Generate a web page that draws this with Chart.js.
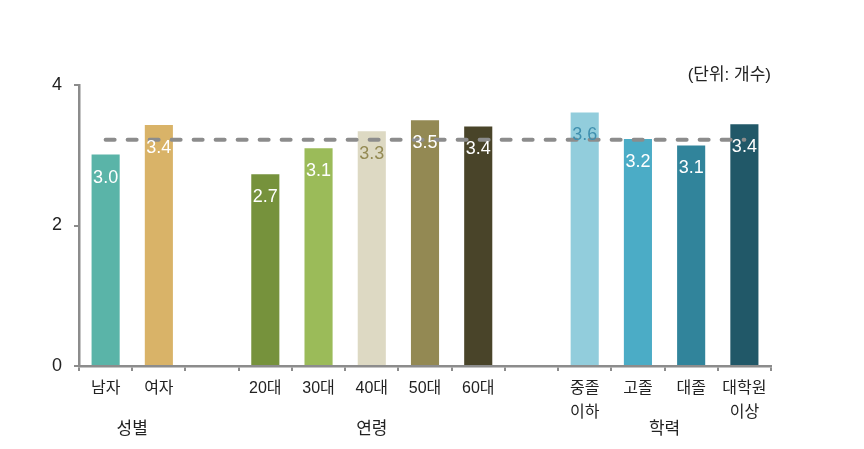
<!DOCTYPE html>
<html>
<head>
<meta charset="utf-8">
<script src="https://cdn.jsdelivr.net/npm/chart.js@4"></script>
<style>
  body { margin: 0; background: #fff; }
  #wrap { width: 864px; height: 449px; }
</style>
</head>
<body>
<div id="wrap"><canvas id="myChart" width="864" height="449"></canvas></div>
<script>
// categories (empty slots are the gaps between groups)
const categories = [["남자"], ["여자"], "", ["20대"], ["30대"], ["40대"], ["50대"], ["60대"], "", ["중졸", "이하"], ["고졸"], ["대졸"], ["대학원", "이상"]];
const values = [3.01, 3.43, null, 2.73, 3.1, 3.34, 3.5, 3.41, null, 3.61, 3.23, 3.14, 3.44];
const average = [3.22, 3.22, 3.22, 3.22, 3.22, 3.22, 3.22, 3.22, 3.22, 3.22, 3.22, 3.22, 3.22];
const groups = ["성별", "연령", "학력"];
const groupAt = [0.5, 5, 10.5]; // category index the group name sits under
const yTicks = [0, 2, 4];

const barColors = ["#5ab4a8", "#d9b368", null, "#76923c", "#9bbb59", "#ddd9c3", "#938953", "#494429", null, "#92cddc", "#4bacc6", "#31849b", "#215868"];
const labelColors = ["#fff", "#fff", null, "#fff", "#fff", "#948a54", "#fff", "#fff", null, "#3f8fae", "#fff", "#fff", "#fff"];

const FONT = "'Liberation Sans', 'Noto Sans CJK KR', sans-serif";
const axisGray = "#8c8c8c";

const extras = {
  id: "extras",
  afterDatasetsDraw(chart) {
    const ctx = chart.ctx;
    const meta = chart.getDatasetMeta(0);
    ctx.save();
    ctx.font = "18px " + FONT;
    ctx.textAlign = "center";
    ctx.textBaseline = "middle";
    meta.data.forEach((bar, i) => {
      if (values[i] == null) return;
      ctx.fillStyle = labelColors[i];
      ctx.fillText(values[i].toFixed(1), bar.x, bar.y + 23);
    });
    ctx.restore();
  },
  afterDraw(chart) {
    const ctx = chart.ctx;
    const x = chart.scales.x;
    ctx.save();
    ctx.fillStyle = "#222";
    ctx.font = "17px " + FONT;
    ctx.textAlign = "center";
    ctx.textBaseline = "middle";
    groups.forEach((g, i) => {
      const lo = Math.floor(groupAt[i]), hi = Math.ceil(groupAt[i]);
      const px = (x.getPixelForValue(lo) + x.getPixelForValue(hi)) / 2;
      ctx.fillText(g, px, 429);
    });
    ctx.font = "17px " + FONT;
    ctx.textAlign = "right";
    ctx.fillText("(단위: 개수)", 771, 75);
    ctx.restore();
  }
};

new Chart(document.getElementById("myChart"), {
  type: "bar",
  data: {
    labels: categories,
    datasets: [
      {
        type: "bar",
        data: values,
        backgroundColor: barColors,
        categoryPercentage: 0.8,
        barPercentage: 0.66,
        order: 2
      },
      {
        type: "line",
        data: average,
        borderColor: axisGray,
        borderWidth: 4,
        borderDash: [9, 13],
        borderCapStyle: "round",
        pointRadius: 0,
        fill: false,
        order: 1
      }
    ]
  },
  options: {
    responsive: false,
    animation: false,
    layout: { padding: { left: 40, right: 93, top: 85, bottom: 18 } },
    plugins: { legend: { display: false }, tooltip: { enabled: false } },
    scales: {
      x: {
        grid: { display: true, drawOnChartArea: false, tickLength: 5, color: axisGray, lineWidth: 2 },
        border: { color: axisGray, width: 2.5 },
        ticks: { color: "#222", font: { size: 16, family: FONT, lineHeight: 1.5 }, padding: 6, maxRotation: 0, autoSkip: false }
      },
      y: {
        min: 0,
        max: 4,
        afterBuildTicks: (s) => { s.ticks = yTicks.map((v) => ({ value: v })); },
        grid: { display: true, drawOnChartArea: false, tickLength: 5, color: axisGray, lineWidth: 2 },
        border: { color: axisGray, width: 2.5 },
        ticks: { color: "#222", font: { size: 18, family: FONT }, padding: 12 }
      }
    }
  },
  plugins: [extras]
});
</script>
</body>
</html>
